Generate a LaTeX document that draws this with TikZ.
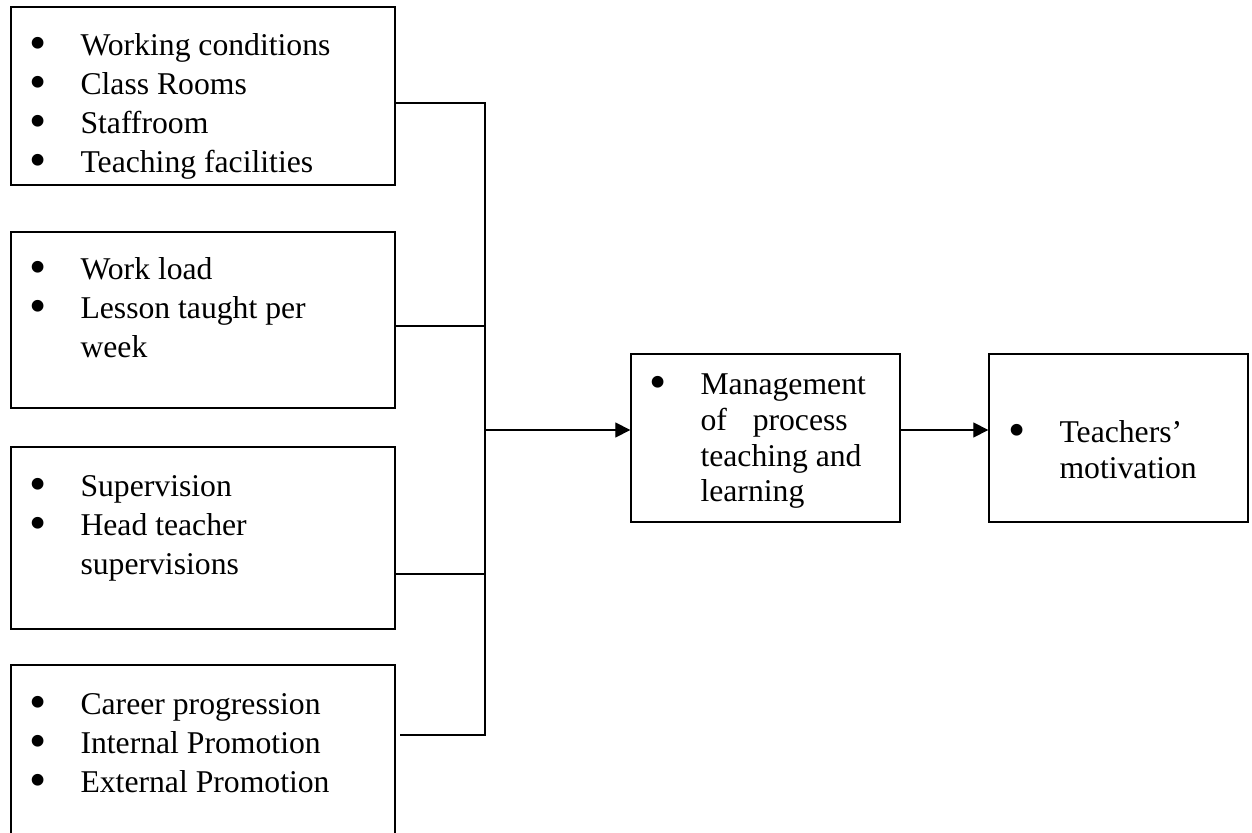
\documentclass[tikz,border=0pt]{standalone}
\usepackage{fontspec}
\usepackage{graphicx}
\setmainfont{Liberation Serif}
\usetikzlibrary{arrows.meta,fit}
\newcommand\bul{\smash{\raisebox{-0.12em}{\scalebox{1.55}{\textbullet}}}}
\newcommand\itm[1]{\makebox[7.576pt][c]{\bul}\hspace{12.12pt}#1}
\newcommand\cnt[1]{\hspace*{19.7pt}#1}
\begin{document}
\begin{tikzpicture}[x=0.3788pt,y=-0.3788pt,
  box/.style={draw, line width=0.5pt, inner sep=0pt},
  lst/.style={anchor=base west, inner sep=0pt, font=\fontsize{12}{14.77}\selectfont},
  lstb/.style={anchor=base west, inner sep=0pt, font=\fontsize{12}{13.45}\selectfont},
  link/.style={line width=0.5pt},
  arr/.style={line width=0.5pt, -{Triangle[length=5.7pt,width=5.7pt]}}]
\useasboundingbox (0,0) rectangle (1252,833);
\begin{scope}
\clip (0,0) rectangle (1252,833);
\node[box, fit={(11,7) (395,185)}] (b1) {};
\node[box, fit={(11,232) (395,408)}] (b2) {};
\node[box, fit={(11,447) (395,629)}] (b3) {};
\node[box, fit={(11,665) (395,870)}] (b4) {};
\node[box, fit={(631,354) (900,522)}] (b5) {};
\node[box, fit={(989,354) (1248,522)}] (b6) {};

\node[lst] (t1) at (28,56) {\begin{tabular}[t]{@{}l@{}}\itm{Working conditions}\\ \itm{Class Rooms}\\ \itm{Staffroom}\\ \itm{Teaching facilities}\end{tabular}};
\node[lst] (t2) at (28,280) {\begin{tabular}[t]{@{}l@{}}\itm{Work load}\\ \itm{Lesson taught per}\\ \cnt{week}\end{tabular}};
\node[lst] (t3) at (28,497) {\begin{tabular}[t]{@{}l@{}}\itm{Supervision}\\ \itm{Head teacher}\\ \cnt{supervisions}\end{tabular}};
\node[lst] (t4) at (28,715) {\begin{tabular}[t]{@{}l@{}}\itm{Career progression}\\ \itm{Internal Promotion}\\ \itm{External Promotion}\end{tabular}};
\node[lstb] (t5) at (648,395) {\begin{tabular}[t]{@{}l@{}}\itm{Management}\\ \cnt{of\hspace{9.8pt}process}\\ \cnt{teaching and}\\ \cnt{learning}\end{tabular}};
\node[lstb] (t6) at (1007,443) {\begin{tabular}[t]{@{}l@{}}\itm{Teachers’}\\ \cnt{motivation}\end{tabular}};

\coordinate (j1) at (485,103);
\coordinate (j2) at (485,326);
\coordinate (j3) at (485,574);
\coordinate (j4) at (485,735);
\coordinate (s4) at (400,735);
\coordinate (jm) at (485,430);

\draw[link] (b1.east |- j1) -- (j1) -- (j4) -- (s4);
\draw[link] (b2.east |- j2) -- (j2);
\draw[link] (b3.east |- j3) -- (j3);
\draw[arr] (jm) -- (b5.west |- jm);
\draw[arr] (b5.east |- jm) -- (b6.west |- jm);
\end{scope}
\end{tikzpicture}
\end{document}
